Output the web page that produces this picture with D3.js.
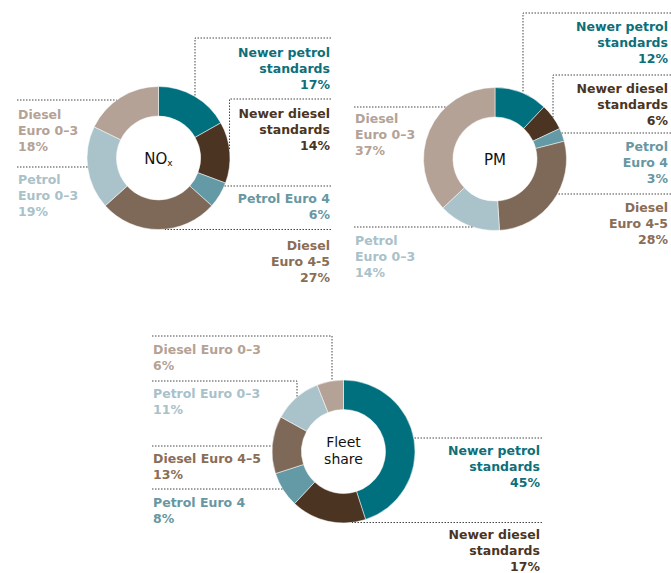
<!DOCTYPE html>
<html>
<head>
<meta charset="utf-8">
<script src="https://cdn.jsdelivr.net/npm/d3@7"></script>
<style>
  html, body { margin: 0; padding: 0; background: #fff; }
  svg text { font-family: "DejaVu Sans", sans-serif; }
</style>
</head>
<body>
<svg id="chart" width="671" height="573"></svg>
<script>
// categories in clockwise order from 12 o'clock
const categories = ["Newer petrol standards", "Newer diesel standards", "Petrol Euro 4",
                    "Diesel Euro 4-5", "Petrol Euro 0-3", "Diesel Euro 0-3"];
const noxValues   = [17, 14, 6, 27, 19, 18];
const pmValues    = [12, 6, 3, 28, 14, 37];
const fleetValues = [45, 17, 8, 13, 11, 6];

// label wording per chart (line breaks differ)
const noxLabels = [["Newer petrol", "standards"], ["Newer diesel", "standards"], ["Petrol Euro 4"],
                   ["Diesel", "Euro 4-5"], ["Petrol", "Euro 0–3"], ["Diesel", "Euro 0–3"]];
const pmLabels  = [["Newer petrol", "standards"], ["Newer diesel", "standards"], ["Petrol", "Euro 4"],
                   ["Diesel", "Euro 4-5"], ["Petrol", "Euro 0–3"], ["Diesel", "Euro 0–3"]];
const fleetLabels = [["Newer petrol", "standards"], ["Newer diesel", "standards"], ["Petrol Euro 4"],
                     ["Diesel Euro 4–5"], ["Petrol Euro 0–3"], ["Diesel Euro 0–3"]];

const colors     = ["#00707f", "#4b3421", "#6499a6", "#7e6858", "#aac3cb", "#b4a296"];
const textColors = ["#0d6f79", "#4b3421", "#6897a2", "#8a6d55", "#a9c1c9", "#b4a296"];

const svg = d3.select("#chart");
const R = 71.5, r0 = 42;
const lineH = 16;

const color = d3.scaleOrdinal().domain(categories).range(colors);
const tcolor = d3.scaleOrdinal().domain(categories).range(textColors);

const pie = d3.pie().sort(null).value(d => d.v);
const arc = d3.arc().innerRadius(r0).outerRadius(R);

// label placement: side, text x, first baseline, leader y, optional bend x
const layouts = {
  nox: [
    {side: "right", x: 330, y: 57,  ly: 38,  bx: 195},
    {side: "right", x: 330, y: 118, ly: 99,  bx: 229.5},
    {side: "right", x: 330, y: 203, ly: 186},
    {side: "right", x: 330, y: 250, ly: 229.5, ex: 165},
    {side: "left",  x: 18,  y: 184, ly: 167},
    {side: "left",  x: 18,  y: 119, ly: 100}
  ],
  pm: [
    {side: "right", x: 668, y: 31,  ly: 13,  bx: 523, lx: 671},
    {side: "right", x: 668, y: 93,  ly: 75,  bx: 553, lx: 671},
    {side: "right", x: 668, y: 151, ly: 133, lx: 671},
    {side: "right", x: 668, y: 212, ly: 194, lx: 671},
    {side: "left",  x: 355, y: 245, ly: 227},
    {side: "left",  x: 355, y: 123, ly: 107}
  ],
  fleet: [
    {side: "right", x: 540, y: 455, ly: 438, lx: 542},
    {side: "right", x: 540, y: 539, ly: 522.5, lx: 542},
    {side: "left",  x: 153, y: 507, ly: 489},
    {side: "left",  x: 153, y: 463, ly: 446},
    {side: "left",  x: 153, y: 398, ly: 381, bx: 297},
    {side: "left",  x: 153, y: 354, ly: 336, bx: 332}
  ]
};

function donut(cx, cy, values, labels, layout, title) {
  const data = categories.map((c, i) => ({c: c, v: values[i], lines: labels[i], pos: layout[i]}));
  const g = svg.append("g").attr("transform", `translate(${cx},${cy})`);

  g.selectAll("path.slice")
    .data(pie(data))
    .enter().append("path")
      .attr("class", "slice")
      .attr("d", arc)
      .attr("fill", d => color(d.data.c))
      .attr("stroke", "#fff")
      .attr("stroke-width", 0.5);

  // leader lines + labels
  data.forEach(d => {
    const p = d.pos;
    const sgn = p.side === "right" ? 1 : -1;
    const dy = p.ly - cy;
    let pts;
    const start = p.lx !== undefined ? p.lx : p.x + sgn * 1;
    if (p.bx !== undefined) {
      const dx = p.bx - cx;
      const h = Math.sqrt(Math.max(0, R * R - dx * dx));
      const yEnd = dy < 0 ? cy - h : cy + h;
      pts = [[start, p.ly], [p.bx, p.ly], [p.bx, yEnd]];
    } else {
      const w = Math.sqrt(Math.max(0, R * R - dy * dy));
      const xEnd = p.ex !== undefined ? p.ex : cx + sgn * w;
      pts = [[start, p.ly], [xEnd, p.ly]];
    }
    svg.append("path")
      .attr("d", d3.line()(pts))
      .attr("fill", "none")
      .attr("stroke", "#444")
      .attr("stroke-width", 1)
      .attr("stroke-dasharray", "1.5,1.5");

    d.lines.concat([d.v + "%"]).forEach((s, i) => {
      svg.append("text")
        .attr("x", p.x)
        .attr("y", p.y + i * lineH)
        .attr("text-anchor", p.side === "right" ? "end" : "start")
        .attr("fill", tcolor(d.c))
        .style("font-size", "12.5px")
        .style("font-weight", 700)
        .text(s);
    });
  });

  // centre title
  const titleLines = title === "Fleet share" ? ["Fleet", "share"] : [title];
  titleLines.forEach((s, i) => {
    const ct = g.append("text")
      .attr("text-anchor", "middle")
      .attr("y", titleLines.length > 1 ? -5 + i * 17 : 6)
      .attr("fill", "#111")
      .style("font-size", titleLines.length > 1 ? "14px" : "15px");
    if (s === "NOx") {
      ct.append("tspan").text("NO");
      ct.append("tspan").attr("dy", 2).style("font-size", "9px").text("x");
    } else {
      ct.text(s);
    }
  });
}

donut(158.5, 158, noxValues, noxLabels, layouts.nox, "NOx");
donut(495, 159, pmValues, pmLabels, layouts.pm, "PM");
donut(343.5, 451.5, fleetValues, fleetLabels, layouts.fleet, "Fleet share");
</script>
</body>
</html>
